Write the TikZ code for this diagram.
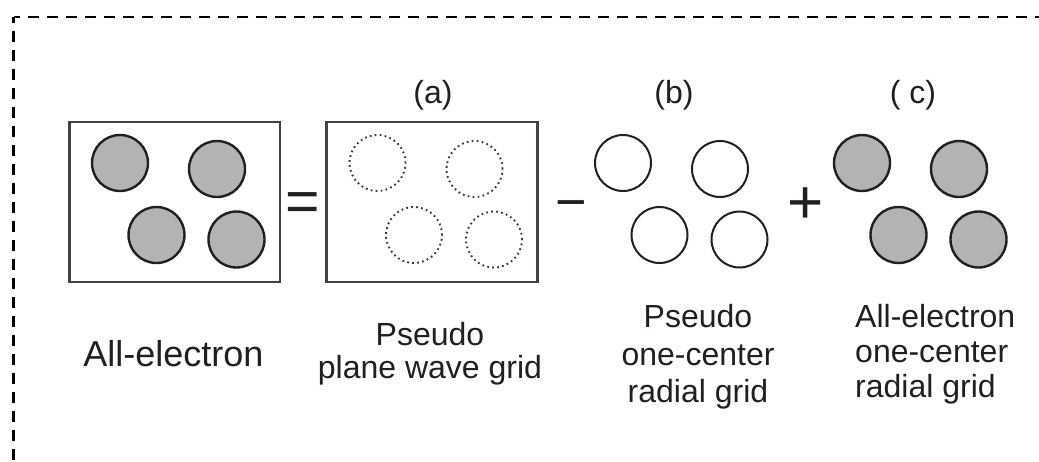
\documentclass[tikz,border=0pt]{standalone}
\usepackage{fontspec}
\setmainfont{Liberation Sans}
\definecolor{ink}{HTML}{231F20}
\definecolor{atom}{HTML}{B3B3B3}
\newcommand\atomset[3]{%
  \node[#3] (#1-1) at (#2+50.5,163) {};
  \node[#3] (#1-2) at (#2+147.5,169) {};
  \node[#3] (#1-3) at (#2+87,235) {};
  \node[#3] (#1-4) at (#2+167,239.5) {};
}
\begin{document}
\begin{tikzpicture}[x=1pt,y=-1pt,
  panel/.style={rectangle, draw=ink!85, line width=2.6pt, minimum width=210.5pt, minimum height=160pt, inner sep=0pt},
  aecirc/.style={circle, draw=ink, fill=atom, line width=2.4pt, minimum size=56pt, inner sep=0pt},
  pscirc/.style={circle, draw=ink, line width=2pt, minimum size=56pt, inner sep=0pt},
  pwcirc/.style={circle, draw=ink!90, line width=1.9pt, dash pattern=on 1.7pt off 3.3pt, minimum size=56pt, inner sep=0pt},
  lbl/.style={inner sep=0pt, text=ink, font=\fontsize{32}{35}\selectfont},
  opsym/.style={inner sep=0pt, text=ink, anchor=base},
  frame/.style={draw=black, line width=2.4pt, dash pattern=on 11pt off 8pt, dash phase=5pt}
]
\useasboundingbox (0,0) rectangle (1039,461);
% dashed frame
\coordinate (tl) at (13.5,17);
\coordinate (tr) at (1039,17);
\coordinate (bl) at (13.5,461);
\draw[frame] (tl) -- (tr);
\draw[frame] (tl) -- (bl);
% panels
\node[panel] (box1) at (174.75,202) {};
\node[panel] (box2) at (432,202) {};
% atoms
\atomset{ae}{69.5}{aecirc}
\atomset{pw}{327}{pwcirc}
\atomset{ps}{572.5}{pscirc}
\atomset{oc}{811.5}{aecirc}
% operators
\node[opsym, font=\fontsize{59}{60}\selectfont] (eq) at (303,221.6) {=};
\node[opsym, font=\fontsize{54}{60}\selectfont] (mi) at (571.5,220.6) {−};
\node[opsym, font=\fontsize{62}{60}\selectfont] (pl) at (806,223.2) {+};
% top labels
\node[lbl, anchor=base] (ta) at (433,103) {(a)};
\node[lbl, anchor=base] (tb) at (674,103) {(b)};
\node[lbl, anchor=base] (tc) at (913,103) {( c)};
% bottom labels
\node[lbl, anchor=base, font=\fontsize{36}{40}\selectfont] (lae) at (173.5,366) {All-electron};
\node[lbl, anchor=north, align=center, font=\fontsize{32}{33}\selectfont] (la) at (430,322.5) {Pseudo\\plane wave grid};
\node[lbl, anchor=north, align=center, font=\fontsize{32}{37.5}\selectfont] (lb) at (698,304.5) {Pseudo\\one-center\\radial grid};
\node[lbl, anchor=north west, align=left, font=\fontsize{32}{35}\selectfont] (lc) at (855,304.5) {All-electron\\one-center\\radial grid};
\end{tikzpicture}
\end{document}
